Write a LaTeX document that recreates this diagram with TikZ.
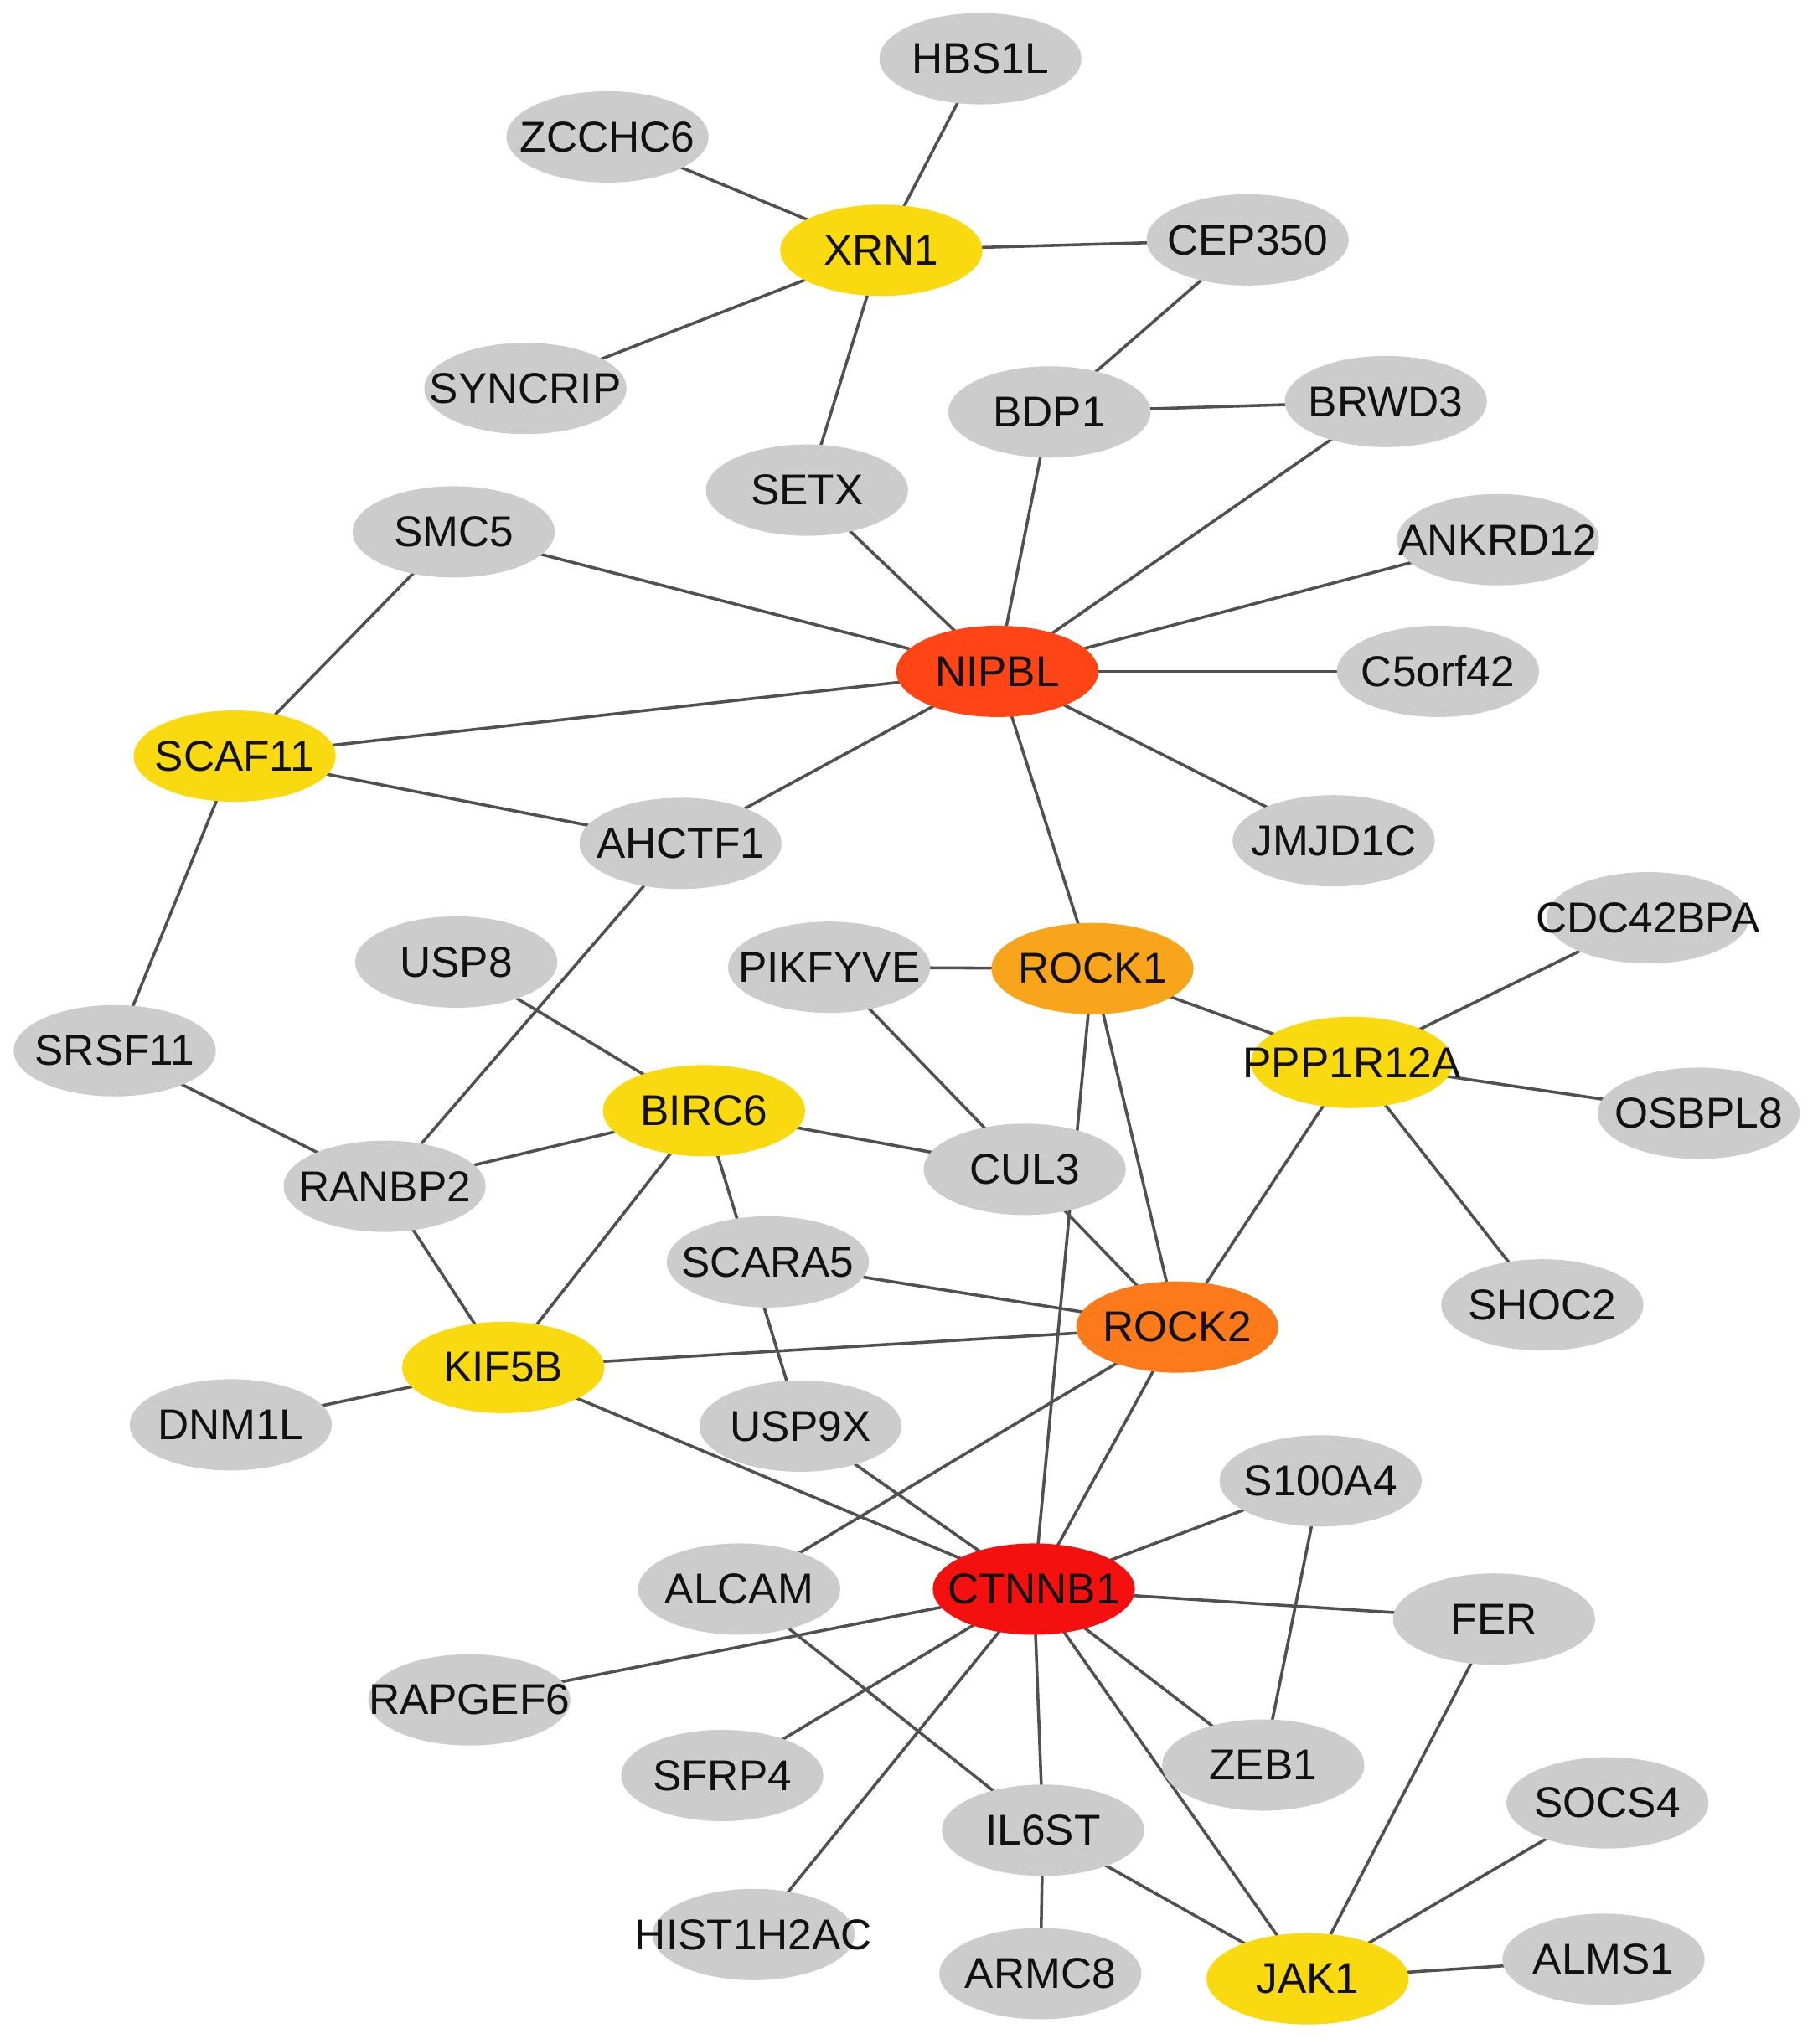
\documentclass[tikz,border=0pt]{standalone}
\usepackage{fontspec}
\setmainfont{Liberation Sans}
\usetikzlibrary{shapes.geometric}
\pgfdeclarelayer{bg}
\pgfsetlayers{bg,main}
\definecolor{gfill}{HTML}{CCCCCC}
\definecolor{yfill}{HTML}{F9D90F}
\definecolor{nipcol}{HTML}{FF4515}
\definecolor{ctncol}{HTML}{F51010}
\definecolor{r1col}{HTML}{F8A51C}
\definecolor{r2col}{HTML}{FC7A1A}
\definecolor{edgecol}{HTML}{505050}
\definecolor{txtcol}{HTML}{111111}
\newcommand\zb[1]{\makebox[0pt]{#1}}
\tikzset{
  x=0.01cm, y=-0.01cm,
  gene/.style={ellipse, draw=none, inner sep=0pt, minimum width=1.55cm, minimum height=0.7cm,
    text=txtcol, font=\fontsize{9.4}{11}\selectfont},
  gn/.style={gene, fill=gfill},
  yn/.style={gene, fill=yfill},
  edge/.style={draw=edgecol, line width=0.65pt}
}
\begin{document}
\begin{tikzpicture}
\useasboundingbox (0,0) rectangle (1394,1568);
\node[gn] (HBS1L) at (752,45) {\zb{HBS1L}};
\node[gn] (ZCCHC6) at (466,105) {\zb{ZCCHC6}};
\node[yn] (XRN1) at (676,192) {\zb{XRN1}};
\node[gn] (CEP350) at (957,184) {\zb{CEP350}};
\node[gn] (SYNCRIP) at (403,298) {\zb{SYNCRIP}};
\node[gn] (BDP1) at (805,316) {\zb{BDP1}};
\node[gn] (BRWD3) at (1063,308) {\zb{BRWD3}};
\node[gn] (SETX) at (619,376) {\zb{SETX}};
\node[gn] (SMC5) at (348,408) {\zb{SMC5}};
\node[gn] (ANKRD12) at (1149,414) {\zb{ANKRD12}};
\node[gene, fill=nipcol] (NIPBL) at (765,515) {\zb{NIPBL}};
\node[gn] (C5orf42) at (1103,515) {\zb{C5orf42}};
\node[yn] (SCAF11) at (180,580) {\zb{SCAF11}};
\node[gn] (AHCTF1) at (522,647) {\zb{AHCTF1}};
\node[gn] (JMJD1C) at (1023,645) {\zb{JMJD1C}};
\node[gn] (CDC42BPA) at (1264,704) {\zb{CDC42BPA}};
\node[gn] (USP8) at (350,738) {\zb{USP8}};
\node[gn] (PIKFYVE) at (636,742) {\zb{PIKFYVE}};
\node[gene, fill=r1col] (ROCK1) at (838,743) {\zb{ROCK1}};
\node[gn] (SRSF11) at (88,806) {\zb{SRSF11}};
\node[yn] (PPP1R12A) at (1037,815) {\zb{PPP1R12A}};
\node[gn] (OSBPL8) at (1303,854) {\zb{OSBPL8}};
\node[yn] (BIRC6) at (540,852) {\zb{BIRC6}};
\node[gn] (CUL3) at (786,897) {\zb{CUL3}};
\node[gn] (RANBP2) at (295,910) {\zb{RANBP2}};
\node[gn] (SCARA5) at (589,968) {\zb{SCARA5}};
\node[gn] (SHOC2) at (1183,1001) {\zb{SHOC2}};
\node[gene, fill=r2col] (ROCK2) at (903,1018) {\zb{ROCK2}};
\node[yn] (KIF5B) at (386,1049) {\zb{KIF5B}};
\node[gn] (DNM1L) at (177,1093) {\zb{DNM1L}};
\node[gn] (USP9X) at (614,1094) {\zb{USP9X}};
\node[gn] (S100A4) at (1013,1136) {\zb{S100A4}};
\node[gn] (ALCAM) at (567,1219) {\zb{ALCAM}};
\node[gene, fill=ctncol] (CTNNB1) at (793,1219) {\zb{CTNNB1}};
\node[gn] (FER) at (1146,1242) {\zb{FER}};
\node[gn] (RAPGEF6) at (360,1304) {\zb{RAPGEF6}};
\node[gn] (ZEB1) at (969,1354) {\zb{ZEB1}};
\node[gn] (SFRP4) at (554,1362) {\zb{SFRP4}};
\node[gn] (IL6ST) at (800,1404) {\zb{IL6ST}};
\node[gn] (SOCS4) at (1233,1383) {\zb{SOCS4}};
\node[gn] (HIST1H2AC) at (578,1484) {\zb{HIST1H2AC}};
\node[gn] (ARMC8) at (798,1514) {\zb{ARMC8}};
\node[yn] (JAK1) at (1003,1518) {\zb{JAK1}};
\node[gn] (ALMS1) at (1230,1503) {\zb{ALMS1}};
\begin{pgfonlayer}{bg}
\foreach \a/\b in {XRN1/HBS1L, XRN1/ZCCHC6, XRN1/CEP350, XRN1/SYNCRIP, XRN1/SETX,
  CEP350/BDP1, BDP1/BRWD3, BDP1/NIPBL, BRWD3/NIPBL, SETX/NIPBL, SMC5/NIPBL,
  ANKRD12/NIPBL, C5orf42/NIPBL, JMJD1C/NIPBL, NIPBL/SCAF11, NIPBL/AHCTF1, NIPBL/ROCK1,
  SMC5/SCAF11, SCAF11/AHCTF1, SCAF11/SRSF11, AHCTF1/RANBP2, SRSF11/RANBP2,
  USP8/BIRC6, RANBP2/BIRC6, RANBP2/KIF5B, BIRC6/KIF5B, BIRC6/CUL3, BIRC6/USP9X,
  PIKFYVE/ROCK1, PIKFYVE/CUL3, ROCK1/PPP1R12A, ROCK1/ROCK2, ROCK1/CTNNB1,
  CUL3/ROCK2, CDC42BPA/PPP1R12A, OSBPL8/PPP1R12A, SHOC2/PPP1R12A, PPP1R12A/ROCK2,
  SCARA5/ROCK2, KIF5B/ROCK2, KIF5B/DNM1L, KIF5B/CTNNB1, USP9X/CTNNB1, ROCK2/CTNNB1,
  ROCK2/ALCAM, S100A4/CTNNB1, S100A4/ZEB1, FER/CTNNB1, FER/JAK1, CTNNB1/RAPGEF6,
  CTNNB1/SFRP4, CTNNB1/HIST1H2AC, CTNNB1/IL6ST, CTNNB1/ZEB1, CTNNB1/JAK1,
  ALCAM/IL6ST, IL6ST/ARMC8, IL6ST/JAK1, SOCS4/JAK1, ALMS1/JAK1}
  \draw[edge] (\a.center) -- (\b.center);
\end{pgfonlayer}
\end{tikzpicture}
\end{document}
